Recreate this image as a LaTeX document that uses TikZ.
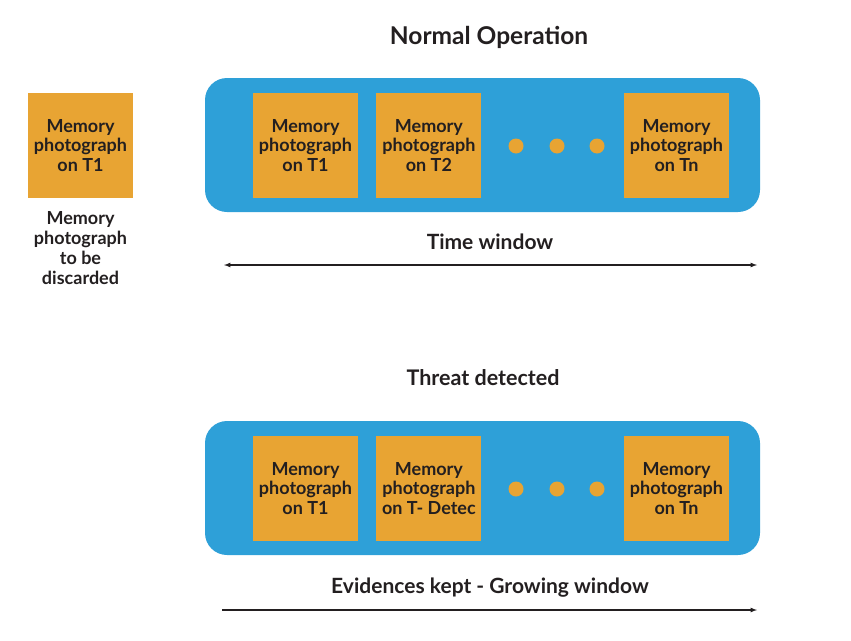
\documentclass[tikz,border=0pt]{standalone}
\usepackage{fontspec}
\setmainfont{Lato}
\usetikzlibrary{arrows,positioning}
\definecolor{winblue}{HTML}{2EA0D8}
\definecolor{memorange}{HTML}{E8A433}
\definecolor{textdark}{HTML}{231F20}

\begin{document}
\begin{tikzpicture}[x=1pt, y=-1pt, text=textdark,
    window/.style = {fill=winblue, rounded corners=22pt, minimum width=555pt, minimum height=134pt},
    mem/.style = {fill=memorange, minimum size=105pt, inner sep=0pt, align=center, font=\bfseries\fontsize{18}{19.5}\selectfont,
        execute at begin node={\rule{0pt}{20pt}}},
    dot/.style = {fill=memorange, circle, minimum size=15pt, inner sep=0pt},
    caption/.style = {align=center, font=\bfseries\fontsize{21}{24}\selectfont},
    heading/.style = {font=\bfseries\fontsize{24.5}{28}\selectfont},
    timeline/.style = {draw=textdark, line width=1.2pt}]
    \useasboundingbox (0,0) rectangle (851,640);

    % normal operation
    \node[heading](normal) at (489,37){Normal Operation};
    \node[window](topwin) at (482.5,145){};
    \node[mem](old) at (80.5,145.5){Memory\\photograph\\on T1};
    \node[caption, font=\bfseries\fontsize{18}{20}\selectfont, below=10pt of old](discard){Memory\\photograph\\to be\\discarded};
    \node[mem](t1) at (305.5,145.5){Memory\\photograph\\on T1};
    \node[mem](t2)[right=18pt of t1]{Memory\\photograph\\on T2};
    \node[dot](d1) at (516,146){};
    \node[dot](d2) at (557,146){};
    \node[dot](d3) at (597,146){};
    \node[mem](tn) at (676.5,145.5){Memory\\photograph\\on Tn};
    \node[caption](timewin) at (490,242){Time window};
    \coordinate (tl) at (224,265);
    \coordinate (tr) at (757,265);
    \draw[timeline, latex-latex] (tl) -- (tr);

    % threat detected
    \node[heading, font=\bfseries\fontsize{21.5}{25}\selectfont](threat) at (483,378){Threat detected};
    \node[window](botwin) at (482.5,488){};
    \node[mem](b1) at (305.5,488.5){Memory\\photograph\\on T1};
    \node[mem](bdet)[right=18pt of b1]{Memory\\photograph\\on T- Detec};
    \node[dot](e1) at (516,489){};
    \node[dot](e2) at (557,489){};
    \node[dot](e3) at (597,489){};
    \node[mem](bn) at (676.5,488.5){Memory\\photograph\\on Tn};
    \node[caption](growing) at (490,588){Evidences kept - Growing window};
    \coordinate (gl) at (222,610);
    \coordinate (gr) at (757,610);
    \draw[timeline, -latex] (gl) -- (gr);
\end{tikzpicture}
\end{document}
